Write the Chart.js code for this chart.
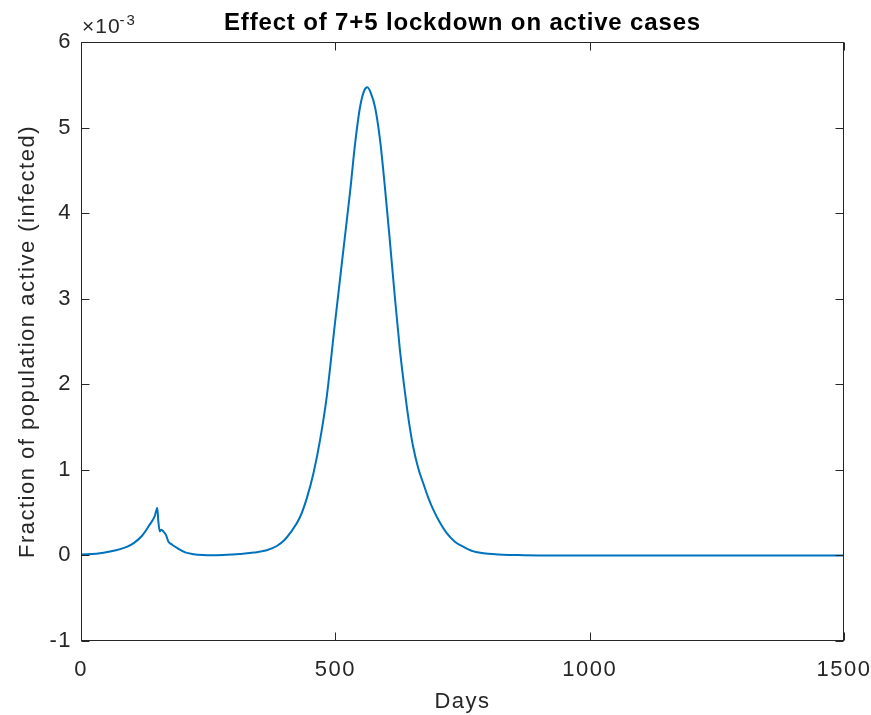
<!DOCTYPE html>
<html><head><meta charset="utf-8">
<script src="https://cdn.jsdelivr.net/npm/chart.js@4/dist/chart.umd.min.js"></script>
<style>html,body{margin:0;padding:0;background:#fff;} #wrap{width:871px;height:715px;position:relative;}</style>
</head><body><div id="wrap"><canvas id="c" width="871" height="715"></canvas></div>
<script>
// Data (values in units of 10^-3)
const days = [0, 30, 57, 90, 105, 120, 135, 145, 150, 152, 155, 158, 162, 167, 172, 178, 188, 205, 221, 240, 260, 287, 312, 340, 365, 385, 400, 411, 430, 444, 457, 470, 483, 499, 516, 529, 539, 548, 556, 563, 570, 578, 588, 598, 607, 617, 627, 637, 645, 653, 663, 673, 683, 693, 705, 719, 735, 752, 770, 785, 820, 850, 900, 1000, 1200, 1500];
const activeFraction = [0.01, 0.02, 0.045, 0.10, 0.15, 0.23, 0.36, 0.46, 0.555, 0.40, 0.28, 0.30, 0.28, 0.24, 0.16, 0.13, 0.09, 0.035, 0.015, 0.005, 0.003, 0.008, 0.018, 0.033, 0.06, 0.11, 0.18, 0.26, 0.44, 0.67, 0.96, 1.35, 1.85, 2.70, 3.58, 4.25, 4.82, 5.22, 5.42, 5.47, 5.40, 5.24, 4.85, 4.27, 3.69, 3.02, 2.40, 1.90, 1.55, 1.27, 1.02, 0.84, 0.67, 0.53, 0.39, 0.26, 0.16, 0.10, 0.05, 0.03, 0.01, 0.005, 0.0, 0.0, 0.0, 0.0];
const xTicks = [0, 500, 1000, 1500];
const yTicks = [-1, 0, 1, 2, 3, 4, 5, 6];
const titleText = 'Effect of 7+5 lockdown on active cases';
const xLabel = 'Days';
const yLabel = 'Fraction of population active (infected)';
const exponentBase = '\u00d710';
const exponentPower = '-3';

const TEXT = '#262626';
const FONT = '"Liberation Sans", Arial, Helvetica, sans-serif';
const SPACING = '1.5px';

const spacingPlugin = {
  id: 'spacing',
  beforeUpdate(chart) { chart.ctx.letterSpacing = SPACING; },
  beforeLayout(chart) { chart.ctx.letterSpacing = SPACING; },
  beforeDraw(chart) { chart.ctx.letterSpacing = SPACING; }
};

const decorPlugin = {
  id: 'decor',
  afterDraw(chart) {
    const ctx = chart.ctx;
    const a = chart.chartArea;
    const xs = chart.scales.x, ys = chart.scales.y;
    ctx.save();
    ctx.strokeStyle = TEXT;
    ctx.lineWidth = 1;
    const L = Math.round(a.left) + 0.5, R = Math.round(a.right) - 0.5;
    const T = Math.round(a.top) + 0.5, B = Math.round(a.bottom) - 0.5;
    ctx.strokeRect(L, T, R - L, B - T);
    const tl = 8;
    ctx.beginPath();
    xTicks.forEach(v => {
      const px = Math.round(xs.getPixelForValue(v)) + 0.5;
      ctx.moveTo(px, B); ctx.lineTo(px, B - tl);
      ctx.moveTo(px, T); ctx.lineTo(px, T + tl);
    });
    yTicks.forEach(v => {
      const py = Math.round(ys.getPixelForValue(v)) + 0.5;
      ctx.moveTo(L, py); ctx.lineTo(L + tl, py);
      ctx.moveTo(R, py); ctx.lineTo(R - tl, py);
    });
    ctx.stroke();
    // title
    ctx.fillStyle = '#000';
    ctx.letterSpacing = '0.85px';
    ctx.font = 'bold 24px ' + FONT;
    ctx.textAlign = 'center';
    ctx.textBaseline = 'alphabetic';
    ctx.fillText(titleText, (a.left + a.right) / 2, 30);
    // exponent
    ctx.fillStyle = TEXT;
    ctx.textAlign = 'left';
    ctx.letterSpacing = '1px';
    ctx.font = '21px ' + FONT;
    ctx.fillText(exponentBase, 82, 33);
    const w = ctx.measureText(exponentBase).width;
    ctx.letterSpacing = '2px';
    ctx.font = '15px ' + FONT;
    ctx.fillText(exponentPower, 81 + w, 25);
    ctx.restore();
  }
};

new Chart(document.getElementById('c'), {
  type: 'line',
  data: {
    datasets: [{
      data: days.map((d, i) => ({ x: d, y: activeFraction[i] })),
      borderColor: '#0072BD',
      borderWidth: 2,
      pointRadius: 0,
      fill: false,
      cubicInterpolationMode: 'monotone'
    }]
  },
  options: {
    responsive: false,
    animation: false,
    devicePixelRatio: 1,
    layout: { padding: { left: 0, right: 27, top: 42, bottom: 0 } },
    plugins: { legend: { display: false }, tooltip: { enabled: false }, title: { display: false } },
    scales: {
      x: {
        type: 'linear', min: 0, max: 1500,
        afterBuildTicks: s => { s.ticks = xTicks.map(v => ({ value: v })); },
        afterFit: s => { s.height = 74; s.paddingLeft = 0; s.paddingRight = 0; },
        grid: { display: false, drawTicks: false },
        border: { display: false },
        ticks: { color: TEXT, font: { family: FONT, size: 22 }, padding: 16, maxRotation: 0, callback: v => String(v) },
        title: { display: true, text: xLabel, color: TEXT, font: { family: FONT, size: 22 }, padding: { top: 0, bottom: 0 } }
      },
      y: {
        type: 'linear', min: -1, max: 6,
        afterBuildTicks: s => { s.ticks = yTicks.map(v => ({ value: v })); },
        afterFit: s => { s.width = 81; s.paddingTop = 0; s.paddingBottom = 0; },
        grid: { display: false, drawTicks: false },
        border: { display: false },
        ticks: { color: TEXT, font: { family: FONT, size: 22 }, padding: 9, callback: v => String(v) },
        title: { display: true, text: yLabel, color: TEXT, font: { family: FONT, size: 22 }, padding: { top: 15, bottom: 0 } }
      }
    }
  },
  plugins: [spacingPlugin, decorPlugin]
});
</script>
</body></html>
